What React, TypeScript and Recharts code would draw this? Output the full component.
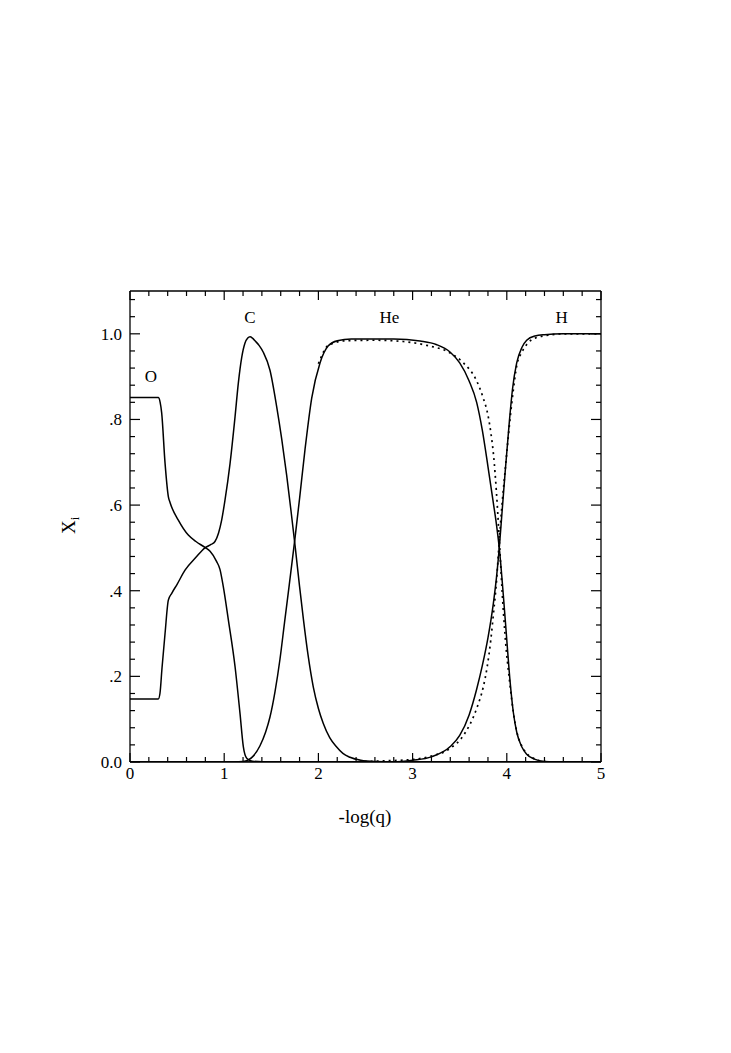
import React from "react";
import { LineChart, Line, XAxis, YAxis, ReferenceDot } from "recharts";

// ---------- data ----------
const oxygen = [
  [0, 0.851], [0.3, 0.851], [0.32, 0.84], [0.336, 0.816], [0.372, 0.698], [0.407, 0.62],
  [0.425, 0.606], [0.513, 0.565], [0.619, 0.53], [0.7, 0.515], [0.796, 0.501], [0.85, 0.492],
  [0.92, 0.468], [0.955, 0.45], [0.99, 0.41], [1.044, 0.332], [1.115, 0.223], [1.168, 0.113],
  [1.203, 0.036], [1.239, 0.009], [1.3, 0.002], [1.5, 0], [5, 0],
].map(([x, y]) => ({ x, y }));

const carbon = [
  [0, 0.147], [0.3, 0.147], [0.318, 0.16], [0.34, 0.22], [0.372, 0.3], [0.407, 0.378],
  [0.443, 0.394], [0.5, 0.415], [0.584, 0.448], [0.7, 0.478], [0.796, 0.5], [0.86, 0.508],
  [0.902, 0.515], [0.94, 0.535], [0.973, 0.565], [1.008, 0.611], [1.062, 0.697], [1.115, 0.806],
  [1.15, 0.885], [1.186, 0.945], [1.22, 0.978], [1.25, 0.99], [1.274, 0.993], [1.3, 0.99],
  [1.33, 0.983], [1.37, 0.973], [1.415, 0.957], [1.486, 0.915], [1.557, 0.83], [1.61, 0.755],
  [1.663, 0.67], [1.71, 0.585], [1.755, 0.5], [1.8, 0.41], [1.84, 0.335], [1.89, 0.25],
  [1.946, 0.175], [2.0, 0.125], [2.052, 0.09], [2.12, 0.057], [2.194, 0.035], [2.26, 0.02],
  [2.335, 0.011], [2.45, 0.004], [2.6, 0.001], [2.8, 0], [5, 0],
].map(([x, y]) => ({ x, y }));

const helium = [
  [0, 0], [1.1, 0], [1.2, 0.001], [1.256, 0.005], [1.3, 0.012], [1.38, 0.038], [1.44, 0.07],
  [1.486, 0.105], [1.54, 0.165], [1.592, 0.24], [1.64, 0.325], [1.68, 0.395], [1.75, 0.52],
  [1.8, 0.615], [1.858, 0.73], [1.929, 0.85], [2.017, 0.932], [2.105, 0.972], [2.2, 0.984],
  [2.35, 0.988], [2.8, 0.988], [3.079, 0.983], [3.25, 0.975], [3.4, 0.957], [3.5, 0.932],
  [3.6, 0.89], [3.68, 0.84], [3.74, 0.775], [3.8, 0.69], [3.857, 0.605], [3.89, 0.555],
  [3.92, 0.5], [3.963, 0.39], [4.0, 0.285], [4.034, 0.19], [4.07, 0.115], [4.105, 0.07],
  [4.16, 0.035], [4.211, 0.018], [4.3, 0.006], [4.4, 0.001], [4.5, 0], [5, 0],
].map(([x, y]) => ({ x, y }));

const hydrogen = [
  [0, 0], [2.8, 0], [3.0, 0.004], [3.2, 0.012], [3.4, 0.036], [3.5, 0.062], [3.6, 0.11],
  [3.68, 0.17], [3.74, 0.225], [3.8, 0.29], [3.857, 0.37], [3.89, 0.43], [3.92, 0.5],
  [3.95, 0.585], [3.98, 0.67], [4.027, 0.795], [4.06, 0.87], [4.105, 0.932], [4.16, 0.968],
  [4.211, 0.985], [4.3, 0.995], [4.4, 0.998], [4.6, 1.0], [5, 1.0],
].map(([x, y]) => ({ x, y }));

const heliumAlt = [
  [2.0, 0.93], [2.105, 0.973], [2.3, 0.984], [2.6, 0.985], [2.9, 0.982], [3.15, 0.973],
  [3.4, 0.955], [3.54, 0.932], [3.68, 0.89], [3.75, 0.85], [3.8, 0.81], [3.83, 0.77],
  [3.86, 0.715], [3.89, 0.63], [3.915, 0.54], [3.935, 0.46], [3.95, 0.4], [3.98, 0.3],
  [4.034, 0.18], [4.07, 0.115], [4.105, 0.072], [4.16, 0.037], [4.211, 0.02], [4.3, 0.007],
  [4.4, 0.001], [4.5, 0], [5, 0],
].map(([x, y]) => ({ x, y }));

const hydrogenAlt = [
  [2.3, 0], [2.6, 0.002], [3.0, 0.006], [3.2, 0.014], [3.4, 0.032], [3.54, 0.062], [3.68, 0.125],
  [3.75, 0.175], [3.79, 0.22], [3.83, 0.285], [3.86, 0.35], [3.89, 0.42], [3.915, 0.5],
  [3.945, 0.59], [3.98, 0.675], [4.034, 0.8], [4.07, 0.87], [4.105, 0.925], [4.16, 0.957],
  [4.211, 0.975], [4.3, 0.99], [4.45, 0.997], [4.6, 1.0], [5, 1.0],
].map(([x, y]) => ({ x, y }));

const X_TICKS = [0, 0.2, 0.4, 0.6, 0.8, 1, 1.2, 1.4, 1.6, 1.8, 2, 2.2, 2.4, 2.6, 2.8, 3, 3.2, 3.4, 3.6, 3.8, 4, 4.2, 4.4, 4.6, 4.8, 5];
const Y_TICKS = [0, 0.04, 0.08, 0.12, 0.16, 0.2, 0.24, 0.28, 0.32, 0.36, 0.4, 0.44, 0.48, 0.52, 0.56, 0.6, 0.64, 0.68, 0.72, 0.76, 0.8, 0.84, 0.88, 0.92, 0.96, 1, 1.04, 1.08];
const X_LABELS: Record<number, string> = { 0: "0", 1: "1", 2: "2", 3: "3", 4: "4", 5: "5" };
const Y_LABELS: Record<string, string> = { "0": "0.0", "0.2": ".2", "0.4": ".4", "0.6": ".6", "0.8": ".8", "1": "1.0" };

const ANNOTATIONS = [
  { x: 0.223, y: 0.888, text: "O" },
  { x: 1.274, y: 1.0245, text: "C" },
  { x: 2.755, y: 1.0245, text: "He" },
  { x: 4.583, y: 1.0245, text: "H" },
];

// ---------- styles ----------
const FONT = "'Liberation Serif', 'Times New Roman', serif";
const W = 731;
const H = 1053;
const MAJOR = 9;
const MINOR = 5;

const isMajorX = (v: number) => Math.abs(v - Math.round(v)) < 1e-6;
const isMajorY = (v: number) => Math.abs(v * 5 - Math.round(v * 5)) < 1e-6;
const yKey = (v: number) => String(Math.round(v * 5) / 5);

const BottomTick = (p: any) => {
  const v = p.payload.value;
  const major = isMajorX(v);
  return (
    <g>
      <line x1={p.x} y1={p.y} x2={p.x} y2={p.y - (major ? MAJOR : MINOR)} stroke="#000" strokeWidth={1.2} />
      {major && (
        <text x={p.x} y={p.y + 17} textAnchor="middle" fontFamily={FONT} fontSize={17} fill="#000">
          {X_LABELS[Math.round(v)]}
        </text>
      )}
    </g>
  );
};

const TopTick = (p: any) => {
  const major = isMajorX(p.payload.value);
  return <line x1={p.x} y1={p.y} x2={p.x} y2={p.y + (major ? MAJOR : MINOR)} stroke="#000" strokeWidth={1.2} />;
};

const LeftTick = (p: any) => {
  const v = p.payload.value;
  const major = isMajorY(v);
  return (
    <g>
      <line x1={p.x} y1={p.y} x2={p.x + (major ? MAJOR + 1 : MINOR)} y2={p.y} stroke="#000" strokeWidth={1.2} />
      {major && (
        <text x={p.x - 8} y={p.y + 6} textAnchor="end" fontFamily={FONT} fontSize={17} fill="#000">
          {Y_LABELS[yKey(v)]}
        </text>
      )}
    </g>
  );
};

const RightTick = (p: any) => {
  const major = isMajorY(p.payload.value);
  return <line x1={p.x} y1={p.y} x2={p.x - (major ? MAJOR + 1 : MINOR)} y2={p.y} stroke="#000" strokeWidth={1.2} />;
};

const series = [
  { name: "O", data: oxygen, dash: undefined },
  { name: "C", data: carbon, dash: undefined },
  { name: "He", data: helium, dash: undefined },
  { name: "H", data: hydrogen, dash: undefined },
  { name: "He2", data: heliumAlt, dash: "2 4" },
  { name: "H2", data: hydrogenAlt, dash: "2 4" },
];

const AXW = 60;
const AXH = 30;

export default function App() {
  return (
    <div style={{ position: "absolute", left: 0, top: 0, width: W, height: H, background: "#fff" }}>
      <LineChart width={W} height={H} margin={{ top: 291 - AXH, left: 130 - AXW, right: 130 - AXW, bottom: 291 - AXH }}>
        <XAxis xAxisId="b" type="number" dataKey="x" domain={[0, 5]} ticks={X_TICKS} interval={0}
          height={AXH} tickSize={0} tickMargin={0} tickLine={false} tick={BottomTick}
          axisLine={{ stroke: "#000", strokeWidth: 1.3 }} allowDataOverflow />
        <XAxis xAxisId="t" orientation="top" type="number" dataKey="x" domain={[0, 5]} ticks={X_TICKS} interval={0}
          height={AXH} tickSize={0} tickMargin={0} tickLine={false} tick={TopTick}
          axisLine={{ stroke: "#000", strokeWidth: 1.3 }} allowDataOverflow />
        <YAxis yAxisId="l" type="number" dataKey="y" domain={[0, 1.1]} ticks={Y_TICKS} interval={0}
          width={AXW} tickSize={0} tickMargin={0} tickLine={false} tick={LeftTick}
          axisLine={{ stroke: "#000", strokeWidth: 1.3 }} allowDataOverflow />
        <YAxis yAxisId="r" orientation="right" type="number" dataKey="y" domain={[0, 1.1]} ticks={Y_TICKS} interval={0}
          width={AXW} tickSize={0} tickMargin={0} tickLine={false} tick={RightTick}
          axisLine={{ stroke: "#000", strokeWidth: 1.3 }} allowDataOverflow />
        {series.map((s) => (
          <Line key={s.name} xAxisId="b" yAxisId="l" data={s.data} dataKey="y" type="monotone"
            stroke="#000" strokeWidth={s.dash ? 1.7 : 1.5} strokeDasharray={s.dash} dot={false}
            activeDot={false} isAnimationActive={false} />
        ))}
        <Line xAxisId="t" yAxisId="r" data={hydrogen} dataKey="y" type="monotone" stroke="none"
          dot={false} activeDot={false} isAnimationActive={false} />
        {ANNOTATIONS.map((a) => (
          <ReferenceDot key={a.text} xAxisId="b" yAxisId="l" x={a.x} y={a.y} r={0} ifOverflow="visible"
            shape={(p: any) => (
              <text x={p.cx} y={p.cy} textAnchor="middle" fontFamily={FONT} fontSize={17} fill="#000">
                {a.text}
              </text>
            )} />
        ))}
      </LineChart>
      <svg width={W} height={H} style={{ position: "absolute", left: 0, top: 0, pointerEvents: "none" }}>
        <text x={365} y={823} textAnchor="middle" fontFamily={FONT} fontSize={19} fill="#000">-log(q)</text>
        <text transform="translate(75,534) rotate(-90)" textAnchor="start" fontFamily={FONT} fontSize={19} fill="#000">
          X<tspan fontSize={13} dy={4}>i</tspan>
        </text>
      </svg>
    </div>
  );
}
